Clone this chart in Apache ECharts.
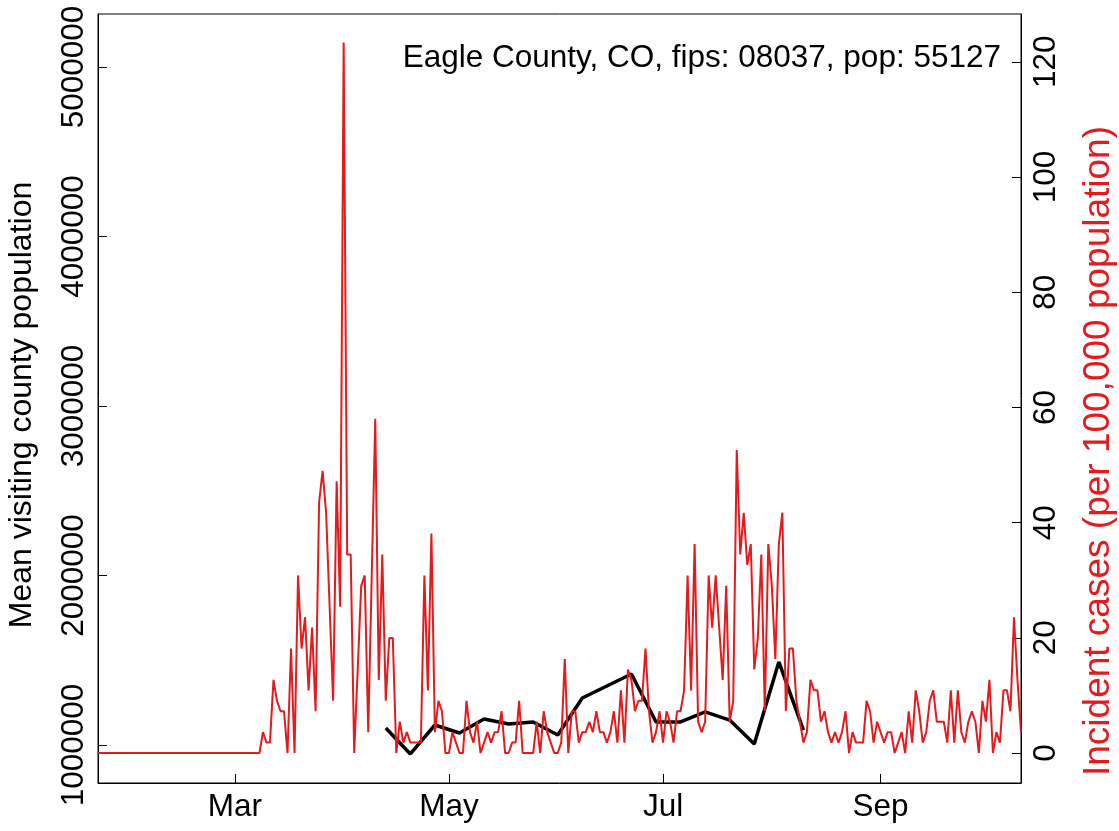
<!DOCTYPE html>
<html>
<head>
<meta charset="utf-8">
<title>Eagle County, CO</title>
<script src="https://cdn.jsdelivr.net/npm/echarts@6.0.0/dist/echarts.min.js"></script>
<style>
html, body { margin: 0; padding: 0; background: #fff; }
#chart { width: 1119px; height: 831px; }
</style>
</head>
<body>
<div id="chart"></div>
<script>
// daily new cases (counts), one per day starting 2020-01-22
var startDay = [2020, 0, 22];
var pop = 55127;
var dailyCases = [
  0,0,0,0,0,0,0,0,0,0, 0,0,0,0,0,0,0,0,0,0,
  0,0,0,0,0,0,0,0,0,0, 0,0,0,0,0,0,0,0,0,0,
  0,0,0,0,0,0,0,2,1,1, 7,5,4,4,0,10,0,17,10,13,
  6,12,4,24,27,23,14,5,26,14, 68,19,19,0,8,16,17,2,17,32,
  7,19,5,11,11,0,3,1,2,1, 1,1,1,17,6,21,2,5,4,0,
  0,2,1,0,0,5,2,1,3,0, 1,2,1,2,2,4,0,0,1,1,
  5,0,0,0,0,3,0,4,2,1, 0,0,1,9,0,4,4,1,2,2,
  3,2,4,2,2,1,2,4,1,6, 1,8,7,4,5,5,10,4,1,2,
  4,1,4,3,1,4,4,6,17,6, 20,3,2,3,17,12,17,12,7,16,
  3,5,29,19,23,18,20,8,11,19, 4,20,16,9,20,23,4,10,10,5,
  3,1,2,7,6,6,3,4,2,1, 2,1,2,4,0,2,1,1,1,5,
  4,1,3,2,1,2,2,0,1,2, 0,4,1,6,4,1,2,5,6,3,
  3,3,1,6,1,6,2,1,3,4, 3,0,5,3,7,0,2,1,6,6,
  4,13,7,2
];

// weekly mean visiting county population, starting 2020-04-13
var weekStart = [2020, 3, 13];
var visitors = [
  1100000, 947000, 1118000, 1071000, 1153000, 1124000, 1136000, 1059000, 1277000,
  1348000, 1419000, 1136000, 1136000, 1195000, 1147000, 1006000, 1490000, 1088000
];

var monthTicks = [[2020, 2, 1], [2020, 4, 1], [2020, 6, 1], [2020, 8, 1]];
var monthLabels = ['Mar', 'May', 'Jul', 'Sep'];
var leftTicks = [1000000, 2000000, 3000000, 4000000, 5000000];
var rightTicks = [0, 20, 40, 60, 80, 100, 120];

var DAY = 86400000;
function utc(d) { return Date.UTC(d[0], d[1], d[2]); }

var t0 = utc(startDay);
var redData = dailyCases.map(function (c, i) {
  return [t0 + i * DAY, c * 100000 / pop];
});
var w0 = utc(weekStart);
var blackData = visitors.map(function (v, i) {
  return [w0 + i * 7 * DAY, v];
});
var tickTimes = monthTicks.map(utc);

var red = '#E41A1C';
var font = 'Liberation Sans';

var chart = echarts.init(document.getElementById('chart'));
chart.setOption({
  animation: false,
  backgroundColor: '#fff',
  textStyle: { fontFamily: font },
  title: {
    text: 'Eagle County, CO, fips: 08037, pop: 55127',
    right: 113,
    top: 37,
    textStyle: { fontFamily: font, fontSize: 31.5, fontWeight: 'normal', color: '#000' }
  },
  grid: {
    left: 98, right: 98, top: 14, bottom: 48,
    show: true, borderColor: '#000', borderWidth: 1,
    backgroundColor: 'transparent'
  },
  xAxis: {
    type: 'value',
    min: t0,
    max: t0 + 263 * DAY,
    splitLine: { show: false },
    axisLine: { onZero: false, lineStyle: { color: '#000', width: 1 } },
    axisTick: {
      inside: true, length: 9,
      lineStyle: { color: '#000', width: 1 },
      customValues: tickTimes
    },
    axisLabel: {
      customValues: tickTimes,
      margin: 8,
      fontSize: 31.5, color: '#000', fontFamily: font,
      formatter: function (v) {
        var i = tickTimes.indexOf(v);
        return i >= 0 ? monthLabels[i] : '';
      }
    }
  },
  yAxis: [{
    type: 'value',
    position: 'left',
    min: 775800,
    max: 5312700,
    splitLine: { show: false },
    axisLine: { show: true, onZero: false, lineStyle: { color: '#000', width: 1 } },
    axisTick: {
      show: true, inside: true, length: 9,
      lineStyle: { color: '#000', width: 1 },
      customValues: leftTicks
    },
    axisLabel: {
      customValues: leftTicks,
      rotate: 90,
      margin: 8,
      fontSize: 31.5, color: '#000', fontFamily: font,
      formatter: function (v) { return String(v); }
    }
  }, {
    type: 'value',
    position: 'right',
    min: -5.2,
    max: 128.3,
    splitLine: { show: false },
    axisLine: { show: true, onZero: false, lineStyle: { color: '#000', width: 1 } },
    axisTick: {
      show: true, inside: true, length: 9,
      lineStyle: { color: '#000', width: 1 },
      customValues: rightTicks
    },
    axisLabel: {
      customValues: rightTicks,
      rotate: 90,
      margin: 9,
      fontSize: 31.5, color: '#000', fontFamily: font,
      formatter: function (v) { return String(v); }
    }
  }],
  graphic: [{
    type: 'text',
    x: 22, y: 405,
    rotation: Math.PI / 2,
    style: {
      text: 'Mean visiting county population',
      fill: '#000',
      font: '32px "Liberation Sans"',
      textAlign: 'center',
      textVerticalAlign: 'middle'
    }
  }, {
    type: 'text',
    x: 1099, y: 451,
    rotation: Math.PI / 2,
    style: {
      text: 'Incident cases (per 100,000 population)',
      fill: red,
      font: '37px "Liberation Sans"',
      textAlign: 'center',
      textVerticalAlign: 'middle'
    }
  }],
  series: [{
    name: 'Mean visiting county population',
    type: 'line',
    yAxisIndex: 0,
    data: blackData,
    showSymbol: false,
    symbol: 'none',
    lineStyle: { color: '#000', width: 3.5 },
    z: 2
  }, {
    name: 'Incident cases',
    type: 'line',
    yAxisIndex: 1,
    data: redData,
    showSymbol: false,
    symbol: 'none',
    lineStyle: { color: red, width: 2 },
    z: 3
  }]
});
</script>
</body>
</html>
